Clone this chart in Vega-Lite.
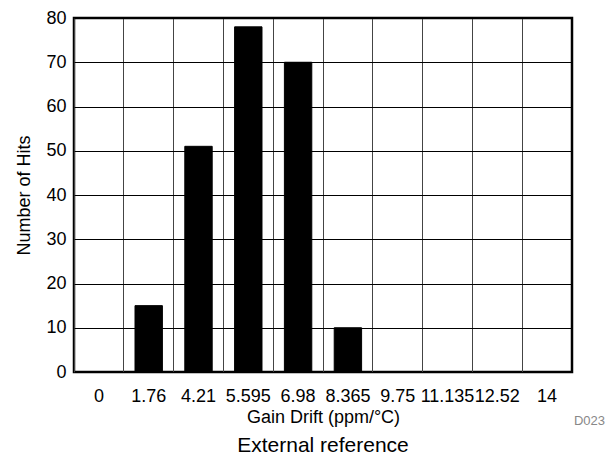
{
  "$schema": "https://vega.github.io/schema/vega-lite/v6.json",
  "width": 498,
  "height": 354,
  "autosize": {"type": "none"},
  "padding": {"left": 74, "top": 18, "right": 38, "bottom": 88},
  "background": "white",
  "config": {
    "view": {"stroke": "#000", "strokeWidth": 2.5},
    "font": "Liberation Sans",
    "axis": {"labelColor": "#000", "titleColor": "#000", "labelFont": "Liberation Sans", "titleFont": "Liberation Sans"}
  },
  "title": {
    "text": "External reference",
    "orient": "bottom",
    "anchor": "middle",
    "fontSize": 21,
    "fontWeight": "normal",
    "color": "#000",
    "offset": 7
  },
  "layer": [
    {
      "data": {
        "values": [
          {"bin": "0", "hits": 0},
          {"bin": "1.76", "hits": 15},
          {"bin": "4.21", "hits": 51},
          {"bin": "5.595", "hits": 78},
          {"bin": "6.98", "hits": 70},
          {"bin": "8.365", "hits": 10},
          {"bin": "9.75", "hits": 0},
          {"bin": "11.135", "hits": 0},
          {"bin": "12.52", "hits": 0},
          {"bin": "14", "hits": 0}
        ]
      },
      "mark": {"type": "bar", "color": "#000", "stroke": "#000", "strokeWidth": 1, "width": {"band": 0.55}},
      "encoding": {
        "x": {
          "field": "bin",
          "type": "ordinal",
          "sort": null,
          "scale": {"paddingInner": 0, "paddingOuter": 0},
          "axis": {
            "title": "Gain Drift (ppm/°C)",
            "titleFontSize": 18,
            "titleFontWeight": "normal",
            "titlePadding": 3,
            "labelFontSize": 18,
            "labelAngle": 0,
            "labelPadding": 15,
            "labelOverlap": false,
            "ticks": false,
            "domain": false,
            "grid": true,
            "bandPosition": 0,
            "gridColor": "#444",
            "gridWidth": 1,
            "gridOpacity": 1
          }
        },
        "y": {
          "field": "hits",
          "type": "quantitative",
          "scale": {"domain": [0, 80], "nice": false},
          "axis": {
            "title": "Number of Hits",
            "titleFontSize": 18,
            "titleFontWeight": "normal",
            "titlePadding": 12,
            "labelFontSize": 18,
            "labelPadding": 8,
            "values": [0, 10, 20, 30, 40, 50, 60, 70, 80],
            "ticks": false,
            "domain": false,
            "grid": true,
            "gridColor": "#000",
            "gridWidth": 1,
            "gridOpacity": 1
          }
        }
      }
    },
    {
      "data": {"values": [{"code": "D023"}]},
      "mark": {"type": "text", "align": "right", "baseline": "middle", "fontSize": 13, "color": "#888", "dx": 33, "clip": false},
      "encoding": {
        "x": {"datum": "14", "type": "ordinal", "bandPosition": 1},
        "y": {"datum": -11, "type": "quantitative"},
        "text": {"field": "code"}
      }
    }
  ]
}
